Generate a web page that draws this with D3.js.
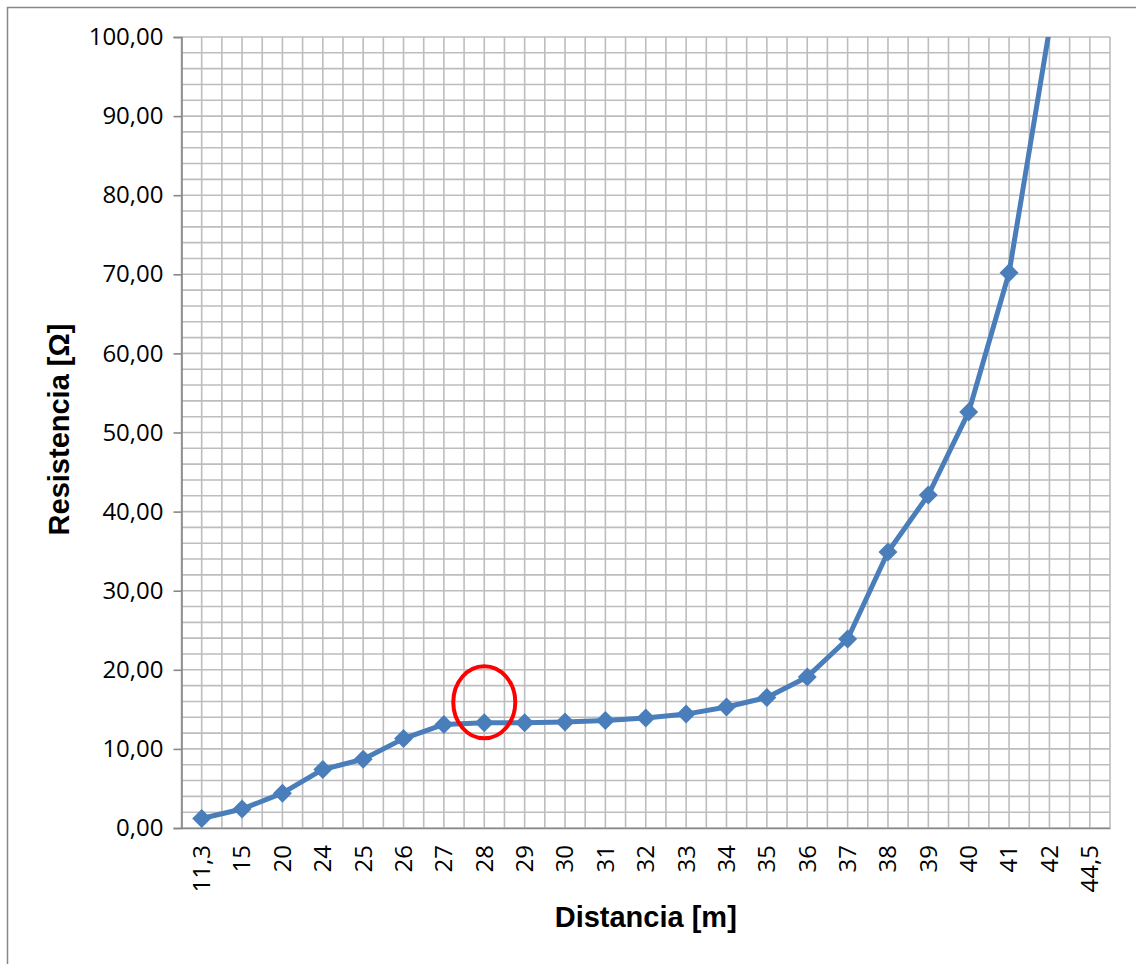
<!DOCTYPE html>
<html lang="es">
<head>
<meta charset="UTF-8">
<title>Resistencia vs Distancia</title>
<script src="https://d3js.org/d3.v7.min.js"></script>
<style>
    body { margin: 0; background: #fff; }
    svg { display: block; }
    .tick text { font-family: "Open Sans", "Noto Sans", sans-serif; font-size: 24px; fill: #000; }
    .title { font-family: "Liberation Sans", Arial, sans-serif; font-weight: bold; font-size: 29px; fill: #000; }
</style>
</head>
<body>
<svg width="1136" height="964"></svg>
<script>
    // data
    const distancias = ["11,3", "15", "20", "24", "25", "26", "27", "28", "29", "30", "31", "32",
        "33", "34", "35", "36", "37", "38", "39", "40", "41", "42", "44,5"];
    const resistencias = [1.2, 2.4, 4.4, 7.4, 8.7, 11.3, 13.1, 13.3, 13.3, 13.4, 13.6, 13.9,
        14.4, 15.3, 16.5, 19.1, 23.9, 34.9, 42.1, 52.6, 70.2, 101, null];
    const yTicks = [0, 10, 20, 30, 40, 50, 60, 70, 80, 90, 100];
    const marcado = { cat: "28", valor: 15.9 };   // red ellipse

    const svg = d3.select("svg");
    const m = { left: 181.5, right: 1110, top: 37, bottom: 828 };

    // outer chart border
    svg.append("rect")
        .attr("x", 7.5).attr("y", 7.5)
        .attr("width", 1140).attr("height", 980)
        .attr("fill", "none").attr("stroke", "#878787").attr("stroke-width", 1.5);

    const x = d3.scaleBand().domain(distancias).range([m.left, m.right]);
    const y = d3.scaleLinear().domain([0, 100]).range([m.bottom, m.top]);

    // grid: vertical every half category, horizontal every 2
    const g = svg.append("g").attr("stroke", "#bdbdbd").attr("stroke-width", 1.6);
    const halfSteps = d3.range(0, distancias.length * 2 + 1);
    g.selectAll(".v").data(halfSteps).enter().append("line")
        .attr("x1", d => m.left + d * x.bandwidth() / 2)
        .attr("x2", d => m.left + d * x.bandwidth() / 2)
        .attr("y1", m.top).attr("y2", m.bottom);
    g.selectAll(".h").data(d3.range(0, 101, 2)).enter().append("line")
        .attr("x1", m.left).attr("x2", m.right)
        .attr("y1", d => y(d)).attr("y2", d => y(d));

    // y axis
    const yAxis = svg.append("g")
        .attr("transform", `translate(${m.left},0)`)
        .call(d3.axisLeft(y).tickValues(yTicks).tickSize(8).tickPadding(10)
            .tickFormat(d => d3.format(".2f")(d).replace(".", ",")));
    yAxis.select(".domain").attr("stroke", "#878787").attr("stroke-width", 1.6);
    yAxis.selectAll(".tick line").attr("stroke", "#878787").attr("stroke-width", 1.6);

    // x axis
    const xAxis = svg.append("g")
        .attr("transform", `translate(0,${m.bottom})`)
        .call(d3.axisBottom(x).tickSize(0).tickSizeOuter(0).tickPadding(0));
    xAxis.select(".domain").attr("stroke", "#878787").attr("stroke-width", 1.6);
    xAxis.selectAll(".tick text")
        .attr("transform", "rotate(-90)")
        .attr("text-anchor", "end")
        .attr("x", -17).attr("y", 0).attr("dy", "0.35em");

    // clip to plot area
    svg.append("clipPath").attr("id", "plot")
        .append("rect").attr("x", m.left).attr("y", m.top)
        .attr("width", m.right - m.left).attr("height", m.bottom - m.top);

    const pts = distancias.map((c, i) => ({ c, v: resistencias[i] })).filter(d => d.v != null);
    const cx = d => x(d.c) + x.bandwidth() / 2;

    const plot = svg.append("g").attr("clip-path", "url(#plot)");
    plot.append("path")
        .datum(pts)
        .attr("fill", "none")
        .attr("stroke", "#4a7ebb")
        .attr("stroke-width", 5)
        .attr("stroke-linejoin", "round")
        .attr("d", d3.line().x(cx).y(d => y(d.v)));

    plot.selectAll(".mk").data(pts).enter().append("path")
        .attr("transform", d => `translate(${cx(d)},${y(d.v)})`)
        .attr("d", "M0,-9.5L9.5,0L0,9.5L-9.5,0Z")
        .attr("fill", "#4a7ebb");

    // red ellipse around 28
    svg.append("ellipse")
        .attr("cx", x(marcado.cat) + x.bandwidth() / 2)
        .attr("cy", y(marcado.valor))
        .attr("rx", 31).attr("ry", 36)
        .attr("fill", "none").attr("stroke", "#ff0000").attr("stroke-width", 4);

    // axis titles
    svg.append("text").attr("class", "title")
        .attr("x", (m.left + m.right) / 2).attr("y", 927)
        .attr("text-anchor", "middle")
        .text("Distancia [m]");
    svg.append("text").attr("class", "title")
        .attr("transform", `translate(69,${(m.top + m.bottom) / 2 - 3}) rotate(-90)`)
        .attr("text-anchor", "middle")
        .text("Resistencia [Ω]");
</script>
</body>
</html>
